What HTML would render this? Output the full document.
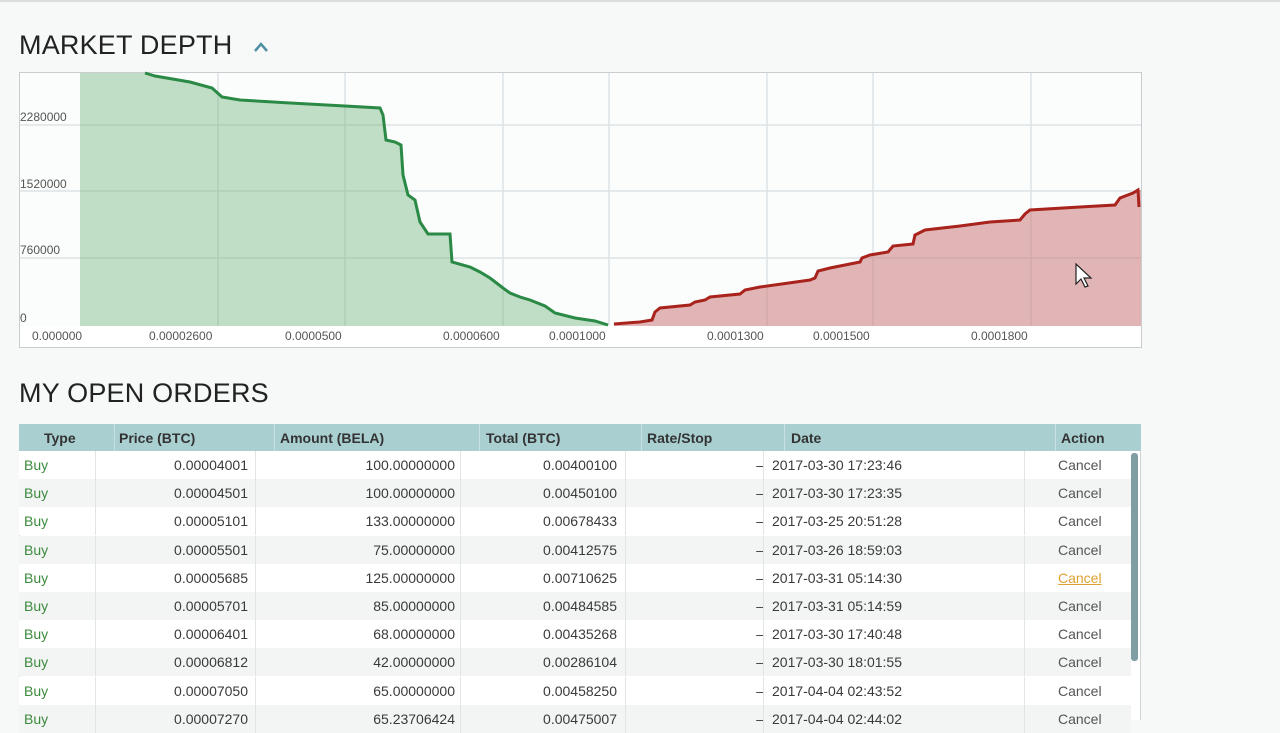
<!DOCTYPE html>
<html><head><meta charset="utf-8"><style>
*{margin:0;padding:0;box-sizing:border-box}
body{width:1280px;height:720px;overflow:hidden;background:#f7f8f8;font-family:"Liberation Sans",sans-serif;position:relative;color:#333}
.h{position:absolute;left:19px;font-size:27px;color:#222;letter-spacing:0.2px}
.row{position:absolute;left:19px;width:1112px;height:28px;font-size:14px;color:#3a3a3a}
.row span{position:absolute;top:6px}
.sep{position:absolute;top:0;width:1px;height:28px;background:#e2e4e4}
.hd{position:absolute;top:424px;left:19px;width:1122px;height:27px;background:#a9cfd1;font-size:14px;font-weight:bold;color:#333}
.hd span{position:absolute;top:6px}
.hd i{position:absolute;top:0;width:1px;height:27px;background:#c7e0e1}
</style></head><body>
<div style="position:absolute;left:0;top:0;width:1280px;height:2px;background:#ddd"></div>
<div class="h" style="top:30px">MARKET DEPTH</div>
<svg style="position:absolute;left:0;top:0" width="1280" height="360">
<polyline points="255,51 261,44 267,51" fill="none" stroke="#4f8fa3" stroke-width="2.5"/>
<rect x="19.5" y="72.5" width="1122" height="275" fill="#fbfcfc" stroke="#c9cdd0"/>
<rect x="20" y="326" width="1121" height="21" fill="#fff"/>
<g stroke="#dde3e5" stroke-width="1.5">
<line x1="20" y1="125" x2="1141" y2="125"/><line x1="20" y1="191" x2="1141" y2="191"/><line x1="20" y1="258" x2="1141" y2="258"/>
<line x1="218" y1="73" x2="218" y2="326"/><line x1="345" y1="73" x2="345" y2="326"/><line x1="503" y1="73" x2="503" y2="326"/><line x1="609" y1="73" x2="609" y2="326"/><line x1="767" y1="73" x2="767" y2="326"/><line x1="873" y1="73" x2="873" y2="326"/><line x1="1031" y1="73" x2="1031" y2="326"/>
</g>
<polygon fill="rgba(96,170,110,0.38)" points="80,73 145,73 155,76 190,82 212,88 222,97 240,100 290,103 345,106 380,108 383,115 386,140 395,142 401,145 403,175 408,195 415,200 420,222 428,234 450,234 452,262 470,267 480,272 490,278 503,288 510,293 520,297 530,300 545,306 555,313 575,318 595,321 608,325 608,326 80,326"/>
<polyline fill="none" stroke="#2a8a45" stroke-width="3" points="145,73 155,76 190,82 212,88 222,97 240,100 290,103 345,106 380,108 383,115 386,140 395,142 401,145 403,175 408,195 415,200 420,222 428,234 450,234 452,262 470,267 480,272 490,278 503,288 510,293 520,297 530,300 545,306 555,313 575,318 595,321 608,325"/>
<polygon fill="rgba(200,110,110,0.5)" points="614,326 614,324 640,322 652,320 655,312 660,308 690,305 695,302 705,300 710,297 740,294 745,290 760,287 810,280 815,278 818,271 830,268 840,266 860,262 862,258 870,255 888,252 893,246 913,244 915,235 925,230 960,226 990,222 1020,220 1025,214 1030,210 1080,207 1115,205 1120,198 1133,193 1138,190 1141,190 1141,326"/>
<polyline fill="none" stroke="#a8231c" stroke-width="3" points="614,324 640,322 652,320 655,312 660,308 690,305 695,302 705,300 710,297 740,294 745,290 760,287 810,280 815,278 818,271 830,268 840,266 860,262 862,258 870,255 888,252 893,246 913,244 915,235 925,230 960,226 990,222 1020,220 1025,214 1030,210 1080,207 1115,205 1120,198 1133,193 1138,190 1139,207"/>
<g font-size="12" fill="#555" font-family="Liberation Sans,sans-serif">
<text x="20" y="121">2280000</text><text x="20" y="188">1520000</text><text x="20" y="254">760000</text><text x="20" y="322">0</text>
<text x="32" y="340">0.000000</text><text x="149" y="340">0.00002600</text><text x="285" y="340">0.0000500</text><text x="443" y="340">0.0000600</text><text x="549" y="340">0.0001000</text><text x="707" y="340">0.0001300</text><text x="813" y="340">0.0001500</text><text x="971" y="340">0.0001800</text>
</g>
<path d="M1076,264 l0,20 l5,-5 l4,8 l3,-1 l-4,-8 l7,0 z" fill="#fff" stroke="#222" stroke-width="1.2"/>
</svg>
<div class="h" style="top:378px">MY OPEN ORDERS</div>
<div class="hd"><span style="left:25px">Type</span><span style="left:100px">Price (BTC)</span><span style="left:261px">Amount (BELA)</span><span style="left:467px">Total (BTC)</span><span style="left:628px">Rate/Stop</span><span style="left:772px">Date</span><span style="left:1042px">Action</span>
<i style="left:95px"></i><i style="left:255px"></i><i style="left:460px"></i><i style="left:622px"></i><i style="left:765px"></i><i style="left:1036px"></i></div>
<div style="position:absolute;left:19px;top:451px;width:1122px;height:269px;background:#fff;border-left:1px solid #d0d4d5;border-right:1px solid #d0d4d5"></div>
<div style="position:absolute;left:1131px;top:453px;width:7px;height:208px;background:#7f9ea3;border-radius:3px"></div>
<div id="rows"></div>
<script>
var d=[["0.00004001","100.00000000","0.00400100","2017-03-30 17:23:46"],["0.00004501","100.00000000","0.00450100","2017-03-30 17:23:35"],["0.00005101","133.00000000","0.00678433","2017-03-25 20:51:28"],["0.00005501","75.00000000","0.00412575","2017-03-26 18:59:03"],["0.00005685","125.00000000","0.00710625","2017-03-31 05:14:30"],["0.00005701","85.00000000","0.00484585","2017-03-31 05:14:59"],["0.00006401","68.00000000","0.00435268","2017-03-30 17:40:48"],["0.00006812","42.00000000","0.00286104","2017-03-30 18:01:55"],["0.00007050","65.00000000","0.00458250","2017-04-04 02:43:52"],["0.00007270","65.23706424","0.00475007","2017-04-04 02:44:02"]];
var h="";d.forEach(function(r,i){var t=451+i*28.2;var bg=i%2?"#f3f4f4":"#fff";
h+='<div class="row" style="top:'+t+'px;background:'+bg+'"><span style="left:5px;color:#3c8a3c">Buy</span>'+
'<span style="right:883px">'+r[0]+'</span><span style="right:676px">'+r[1]+'</span><span style="right:514px">'+r[2]+'</span><span style="right:367px">&ndash;</span><span style="left:753px">'+r[3]+'</span><span style="left:1039px;'+(i==4?'color:#e0a030;text-decoration:underline':'color:#555')+'">Cancel</span>'+
'<i class="sep" style="left:76px"></i><i class="sep" style="left:236px"></i><i class="sep" style="left:441px"></i><i class="sep" style="left:606px"></i><i class="sep" style="left:744px"></i><i class="sep" style="left:1005px"></i></div>';});
document.getElementById("rows").innerHTML=h;
</script>
</body></html>
